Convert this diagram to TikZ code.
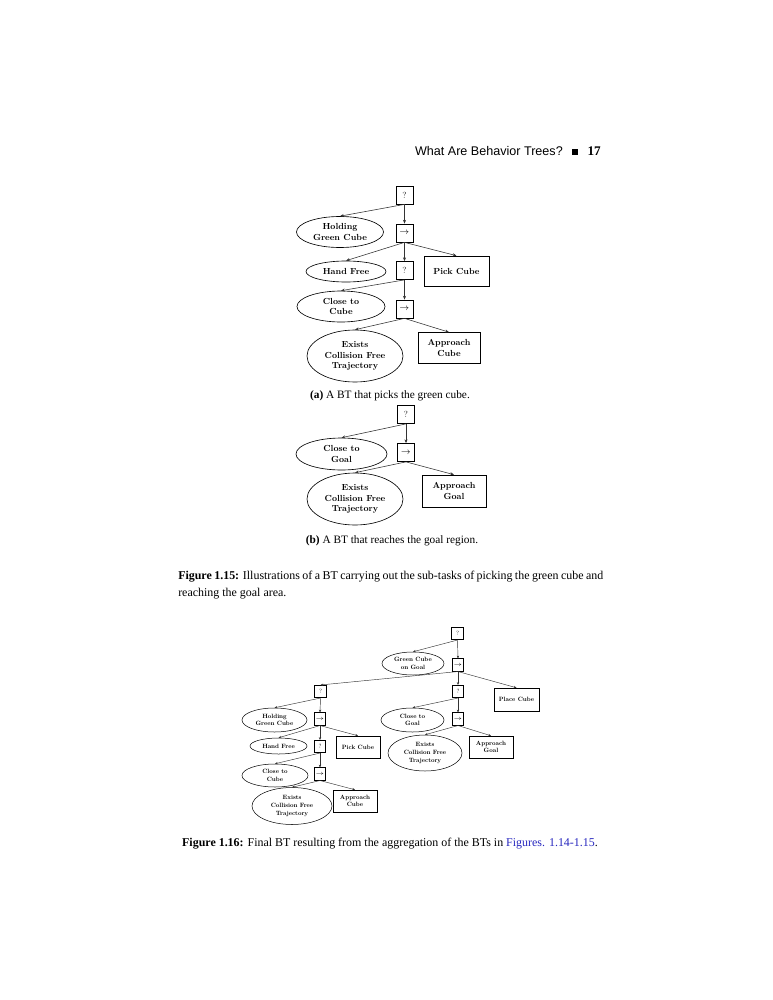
\documentclass[tikz,border=0pt]{standalone}
\usepackage{fontspec}
\setmainfont{Liberation Serif}
\newfontfamily\headfont{Liberation Sans}
\newfontfamily\treefont[BoldFont=lmroman10-bold.otf]{lmroman10-regular.otf}
\usetikzlibrary{shapes.geometric,arrows.meta}
\newdimen\pxu \pxu=0.7953pt
\definecolor{linkblue}{rgb}{0.15,0.15,0.75}

\begin{document}
\begin{tikzpicture}[x=\pxu,y=-\pxu]
\tikzstyle{every node}+=[inner sep=0pt]
\tikzstyle{cond}=[draw, ellipse, align=center]
\tikzstyle{act}=[draw, rectangle, align=center]
\tikzstyle{ctl}=[draw, rectangle]
\tikzstyle{bigbt}=[font=\treefont\bfseries\fontsize{7}{8.6}\selectfont, line width=0.5pt]
\tikzstyle{bigctl}=[ctl, font=\treefont\fontsize{7}{8.6}\selectfont, minimum width=17\pxu, minimum height=18\pxu, line width=0.6pt]
\tikzstyle{smallbt}=[font=\treefont\bfseries\fontsize{4.9}{6}\selectfont, line width=0.4pt]
\tikzstyle{smallctl}=[ctl, font=\treefont\fontsize{4.9}{6}\selectfont, minimum width=11.5\pxu, minimum height=12.5\pxu, line width=0.45pt]
\tikzstyle{bigedge}=[-{Stealth[length=3pt,width=2.4pt]}, black!80, line width=0.45pt]
\tikzstyle{smalledge}=[-{Stealth[length=2.2pt,width=1.8pt]}, black!80, line width=0.35pt]
\useasboundingbox (0,0) rectangle (772,1000);
\fill[white] (0,0) rectangle (772,1000);

% running head
\node[anchor=base east, font=\headfont\fontsize{10}{12}\selectfont] (head) at (563,156) {What Are Behavior Trees?};
\node[fill=black, minimum size=6\pxu] (mark) at (575,152) {};
\node[anchor=base east, font=\bfseries\fontsize{10.5}{12}\selectfont] (page) at (601,156) {17};

% (a) picking the green cube
\node[bigctl] (qa0) at (404.5,195) {?};
\node[bigctl] (sa1) at (404.5,233) {$\rightarrow$};
\node[cond, bigbt, minimum width=87\pxu, minimum height=31\pxu] (ca1) at (340,232) {Holding\\Green Cube};
\node[cond, bigbt, minimum width=80\pxu, minimum height=21\pxu] (ca2) at (346,271.5) {Hand Free};
\node[bigctl] (fa2) at (404.5,270.5) {?};
\node[act, bigbt, minimum width=65\pxu, minimum height=30\pxu] (aa1) at (456.5,271) {Pick Cube};
\node[cond, bigbt, minimum width=88\pxu, minimum height=31\pxu] (ca3) at (341,306.5) {Close to\\Cube};
\node[bigctl] (sa2) at (404.5,309) {$\rightarrow$};
\node[cond, bigbt, minimum width=96\pxu, minimum height=52\pxu] (ca4) at (355,356) {Exists\\Collision Free\\Trajectory};
\node[act, bigbt, minimum width=62\pxu, minimum height=31\pxu] (aa2) at (449,348) {Approach\\Cube};
\draw[bigedge] (qa0.south) -- (ca1.north);
\draw[bigedge] (qa0.south) -- (sa1.north);
\draw[bigedge] (sa1.south) -- (ca2.north);
\draw[bigedge] (sa1.south) -- (fa2.north);
\draw[bigedge] (sa1.south) -- (aa1.north);
\draw[bigedge] (fa2.south) -- (ca3.north);
\draw[bigedge] (fa2.south) -- (sa2.north);
\draw[bigedge] (sa2.south) -- (ca4.north);
\draw[bigedge] (sa2.south) -- (aa2.north);
\node[anchor=base, font=\fontsize{9}{11}\selectfont] (capa) at (390,398) {\textbf{(a)} A BT that picks the green cube.};

% (b) reaching the goal
\node[bigctl] (qb0) at (406,414.5) {?};
\node[cond, bigbt, minimum width=91\pxu, minimum height=32\pxu] (cb1) at (341.5,454) {Close to\\Goal};
\node[bigctl] (sb1) at (406,452.5) {$\rightarrow$};
\node[cond, bigbt, minimum width=96\pxu, minimum height=52\pxu] (cb2) at (355,499) {Exists\\Collision Free\\Trajectory};
\node[act, bigbt, minimum width=64\pxu, minimum height=32\pxu] (ab1) at (454,491) {Approach\\Goal};
\draw[bigedge] (qb0.south) -- (cb1.north);
\draw[bigedge] (qb0.south) -- (sb1.north);
\draw[bigedge] (sb1.south) -- (cb2.north);
\draw[bigedge] (sb1.south) -- (ab1.north);
\node[anchor=base, font=\fontsize{9}{11}\selectfont] (capb) at (392,543) {\textbf{(b)} A BT that reaches the goal region.};

\node[anchor=north west, text width=425\pxu, align=justify, font=\fontsize{9.5}{13.5}\selectfont] (cap15) at (178,571) {\textbf{Figure 1.15:} Illustrations of a BT carrying out the sub-tasks of picking the green cube and\linebreak reaching the goal area.};

% final tree
\node[smallctl] (qc0) at (457.5,633.5) {?};
\node[cond, smallbt, minimum width=62\pxu, minimum height=23\pxu] (cc1) at (413,663.5) {Green Cube\\on Goal};
\node[smallctl] (sc1) at (458,665) {$\rightarrow$};
\node[smallctl] (fc1) at (320.5,691.5) {?};
\node[smallctl] (fc2) at (458,691.5) {?};
\node[act, smallbt, minimum width=45\pxu, minimum height=23\pxu] (ac1) at (516.5,699.5) {Place Cube};
\node[cond, smallbt, minimum width=65\pxu, minimum height=24\pxu] (cc2) at (274.5,720) {Holding\\Green Cube};
\node[smallctl] (sc2) at (320,719) {$\rightarrow$};
\node[cond, smallbt, minimum width=57\pxu, minimum height=16\pxu] (cc3) at (278.5,746) {Hand Free};
\node[smallctl] (fc3) at (320,746.5) {?};
\node[act, smallbt, minimum width=44\pxu, minimum height=22\pxu] (ac2) at (358,747) {Pick Cube};
\node[cond, smallbt, minimum width=66\pxu, minimum height=23\pxu] (cc4) at (275,775.5) {Close to\\Cube};
\node[smallctl] (sc3) at (320,774) {$\rightarrow$};
\node[cond, smallbt, minimum width=80\pxu, minimum height=37\pxu] (cc5) at (292,806) {Exists\\Collision Free\\Trajectory};
\node[act, smallbt, minimum width=44\pxu, minimum height=22\pxu] (ac3) at (355,801) {Approach\\Cube};
\node[cond, smallbt, minimum width=63\pxu, minimum height=24\pxu] (cc6) at (412.5,720) {Close to\\Goal};
\node[smallctl] (sc4) at (458,719) {$\rightarrow$};
\node[cond, smallbt, minimum width=74\pxu, minimum height=36\pxu] (cc7) at (425,753) {Exists\\Collision Free\\Trajectory};
\node[act, smallbt, minimum width=44\pxu, minimum height=22\pxu] (ac4) at (491,747) {Approach\\Goal};
\draw[smalledge] (qc0.south) -- (cc1.north);
\draw[smalledge] (qc0.south) -- (sc1.north);
\draw[smalledge] (sc1.south) -- (fc1.north);
\draw[smalledge] (sc1.south) -- (fc2.north);
\draw[smalledge] (sc1.south) -- (ac1.north);
\draw[smalledge] (fc1.south) -- (cc2.north);
\draw[smalledge] (fc1.south) -- (sc2.north);
\draw[smalledge] (sc2.south) -- (cc3.north);
\draw[smalledge] (sc2.south) -- (fc3.north);
\draw[smalledge] (sc2.south) -- (ac2.north);
\draw[smalledge] (fc3.south) -- (cc4.north);
\draw[smalledge] (fc3.south) -- (sc3.north);
\draw[smalledge] (sc3.south) -- (cc5.north);
\draw[smalledge] (sc3.south) -- (ac3.north);
\draw[smalledge] (fc2.south) -- (cc6.north);
\draw[smalledge] (fc2.south) -- (sc4.north);
\draw[smalledge] (sc4.south) -- (cc7.north);
\draw[smalledge] (sc4.south) -- (ac4.north);

\node[anchor=base, font=\fontsize{9.5}{13.5}\selectfont] (cap16) at (390,846) {\textbf{Figure 1.16:} Final BT resulting from the aggregation of the BTs in \textcolor{linkblue}{Figures. 1.14-1.15}.};
\end{tikzpicture}
\end{document}
